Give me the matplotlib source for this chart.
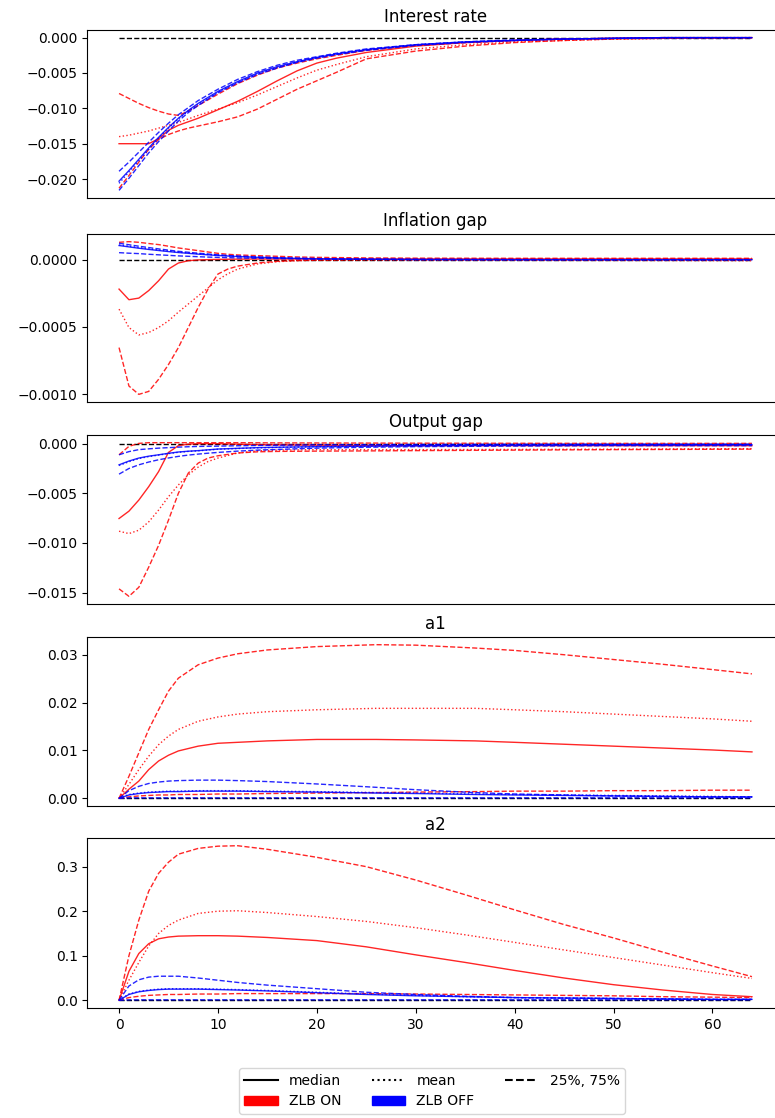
import numpy as np
import matplotlib
matplotlib.use("Agg")
import matplotlib.pyplot as plt
from matplotlib.lines import Line2D
from matplotlib.patches import Patch
from matplotlib.ticker import MultipleLocator

# --- impulse responses: ZLB ON (red) and ZLB OFF (blue); median / mean / 25% / 75%

# Interest rate
x_rate = [0, 1, 2, 3, 4, 5, 6, 7, 8, 10, 12, 14, 16, 18, 20, 22, 25, 30, 35, 40, 45, 50, 55, 64]
rate_on_med = [-0.0150, -0.0150, -0.0150, -0.0150, -0.0143, -0.0131, -0.0124, -0.0119, -0.0114, -0.0102,
               -0.0090, -0.0076, -0.0061, -0.0047, -0.0036, -0.0029, -0.0021, -0.0012, -0.0007, -0.0004,
               -0.0002, -0.0001, 0.0, 0.0]
rate_on_mean = [-0.0140, -0.0138, -0.0135, -0.0132, -0.0128, -0.0124, -0.0120, -0.0115, -0.0110, -0.0101,
                -0.0092, -0.0081, -0.0069, -0.0057, -0.0046, -0.0038, -0.0027, -0.0016, -0.0010, -0.0006,
                -0.0004, -0.0002, -0.0001, 0.0]
rate_on_q25 = [-0.0213, -0.0195, -0.0176, -0.0158, -0.0144, -0.0137, -0.0132, -0.0128, -0.0125, -0.0119,
               -0.0112, -0.0101, -0.0087, -0.0073, -0.0061, -0.0049, -0.0030, -0.0019, -0.0012, -0.0007,
               -0.0004, -0.0002, -0.0001, 0.0]
rate_on_q75 = [-0.0079, -0.0086, -0.0093, -0.0099, -0.0104, -0.0108, -0.0110, -0.0104, -0.0096, -0.0080,
               -0.0065, -0.0053, -0.0043, -0.0036, -0.0030, -0.0025, -0.0018, -0.0011, -0.0007, -0.0004,
               -0.0002, -0.0001, 0.0, 0.0]
rate_off_med = [-0.0203, -0.0188, -0.0172, -0.0156, -0.0141, -0.0127, -0.0114, -0.0103, -0.0093, -0.0076,
                -0.0062, -0.0050, -0.0041, -0.0034, -0.0028, -0.0023, -0.0017, -0.0010, -0.0006, -0.0004,
                -0.0002, -0.0001, 0.0, 0.0]
rate_off_mean = [-0.0206, -0.0190, -0.0174, -0.0158, -0.0142, -0.0128, -0.0115, -0.0104, -0.0094, -0.0077,
                 -0.0063, -0.0051, -0.0042, -0.0034, -0.0028, -0.0023, -0.0017, -0.0010, -0.0006, -0.0004,
                 -0.0002, -0.0001, 0.0, 0.0]
rate_off_q25 = [-0.0216, -0.0199, -0.0181, -0.0163, -0.0147, -0.0132, -0.0118, -0.0106, -0.0096, -0.0078,
                -0.0064, -0.0052, -0.0043, -0.0035, -0.0029, -0.0024, -0.0018, -0.0011, -0.0007, -0.0004,
                -0.0002, -0.0001, 0.0, 0.0]
rate_off_q75 = [-0.0189, -0.0176, -0.0162, -0.0148, -0.0134, -0.0121, -0.0109, -0.0099, -0.0089, -0.0073,
                -0.0059, -0.0048, -0.0039, -0.0032, -0.0027, -0.0022, -0.0016, -0.0010, -0.0006, -0.0003,
                -0.0002, -0.0001, 0.0, 0.0]

# Inflation gap
x_infl = [0, 1, 2, 3, 4, 5, 6, 7, 8, 9, 10, 11, 12, 14, 16, 18, 20, 25, 30, 40, 50, 64]
infl_on_med = [-0.000219, -0.000298, -0.000286, -0.000230, -0.000157, -0.000070, -0.000025, -0.000008,
               -0.000002, 0.0, 0.000002, 0.000003, 0.000004, 0.000005, 0.000005, 0.000005, 0.000005,
               0.000005, 0.000005, 0.000005, 0.000005, 0.000005]
infl_on_mean = [-0.000368, -0.000505, -0.000560, -0.000542, -0.000505, -0.000455, -0.000390, -0.000330,
                -0.000270, -0.000210, -0.000150, -0.000105, -0.000070, -0.000032, -0.000015, -0.000008,
                -0.000005, -0.000004, -0.000004, -0.000005, -0.000006, -0.000008]
infl_on_q25 = [-0.000654, -0.000940, -0.001002, -0.000980, -0.000890, -0.000780, -0.000654, -0.000505,
               -0.000356, -0.000219, -0.000107, -0.000070, -0.000048, -0.000025, -0.000012, -0.000006,
               -0.000003, 0.0, 0.0, 0.0, 0.0, 0.0]
infl_on_q75 = [0.000129, 0.000134, 0.000129, 0.000120, 0.000112, 0.000100, 0.000087, 0.000077, 0.000067,
               0.000057, 0.000047, 0.000040, 0.000035, 0.000030, 0.000025, 0.000020, 0.000017, 0.000013,
               0.000011, 0.000010, 0.000010, 0.000010]
infl_off_med = [0.000105, 0.000095, 0.000085, 0.000076, 0.000068, 0.000060, 0.000053, 0.000047, 0.000041,
                0.000036, 0.000031, 0.000027, 0.000023, 0.000017, 0.000013, 0.000009, 0.000006, 0.000003,
                0.000001, 0.0, 0.0, 0.0]
infl_off_mean = [0.000110, 0.000100, 0.000090, 0.000080, 0.000072, 0.000064, 0.000056, 0.000050, 0.000044,
                 0.000038, 0.000033, 0.000029, 0.000025, 0.000018, 0.000014, 0.000010, 0.000007, 0.000003,
                 0.000001, 0.0, 0.0, 0.0]
infl_off_q25 = [0.000052, 0.000048, 0.000045, 0.000040, 0.000036, 0.000032, 0.000028, 0.000025, 0.000022,
                0.000019, 0.000017, 0.000015, 0.000013, 0.000010, 0.000008, 0.000006, 0.000004, 0.000002,
                0.000001, 0.0, 0.0, 0.0]
infl_off_q75 = [0.000122, 0.000111, 0.000100, 0.000090, 0.000080, 0.000071, 0.000062, 0.000055, 0.000048,
                0.000042, 0.000036, 0.000031, 0.000027, 0.000020, 0.000015, 0.000011, 0.000008, 0.000004,
                0.000002, 0.000001, 0.0, 0.0]

# Output gap
x_out = [0, 1, 2, 3, 4, 5, 6, 7, 8, 9, 10, 12, 14, 16, 20, 25, 30, 40, 50, 64]
out_on_med = [-0.00754, -0.00680, -0.00568, -0.00433, -0.00281, -0.00088, -0.00020, -0.00005, 0.0, 0.0,
              0.0, -0.00005, -0.00010, -0.00012, -0.00015, -0.00018, -0.00020, -0.00020, -0.00020, -0.00020]
out_on_mean = [-0.00882, -0.00906, -0.00872, -0.00788, -0.00669, -0.00534, -0.00416, -0.00314, -0.00236,
               -0.00180, -0.00145, -0.00094, -0.00072, -0.00065, -0.00060, -0.00060, -0.00060, -0.00058,
               -0.00055, -0.00050]
out_on_q25 = [-0.01463, -0.01538, -0.01447, -0.01244, -0.01024, -0.00770, -0.00500, -0.00297, -0.00196,
              -0.00145, -0.00122, -0.00094, -0.00082, -0.00078, -0.00075, -0.00073, -0.00070, -0.00065,
              -0.00060, -0.00055]
out_on_q75 = [-0.00112, -0.00027, 0.00003, 0.00010, 0.00010, 0.00010, 0.00010, 0.00010, 0.00010, 0.00010,
              0.00010, 0.00010, 0.00009, 0.00008, 0.00007, 0.00006, 0.00005, 0.00004, 0.00003, 0.00003]
out_off_med = [-0.00213, -0.00175, -0.00145, -0.00126, -0.00112, -0.00097, -0.00084, -0.00076, -0.00070,
               -0.00062, -0.00054, -0.00047, -0.00040, -0.00036, -0.00030, -0.00025, -0.00020, -0.00015,
               -0.00012, -0.00010]
out_off_mean = [-0.00220, -0.00182, -0.00150, -0.00130, -0.00115, -0.00100, -0.00087, -0.00078, -0.00072,
                -0.00064, -0.00056, -0.00049, -0.00042, -0.00038, -0.00031, -0.00026, -0.00021, -0.00016,
                -0.00013, -0.00010]
out_off_q25 = [-0.00307, -0.00250, -0.00213, -0.00185, -0.00162, -0.00144, -0.00128, -0.00115, -0.00105,
               -0.00096, -0.00088, -0.00075, -0.00065, -0.00058, -0.00045, -0.00036, -0.00030, -0.00024,
               -0.00020, -0.00020]
out_off_q75 = [-0.00112, -0.00080, -0.00060, -0.00052, -0.00045, -0.00040, -0.00035, -0.00031, -0.00028,
               -0.00026, -0.00025, -0.00021, -0.00018, -0.00016, -0.00012, -0.00010, -0.00008, -0.00006,
               -0.00005, -0.00005]

# a1
x_a1 = [0, 1, 2, 3, 4, 5, 6, 8, 10, 12, 15, 20, 26, 30, 36, 40, 45, 50, 55, 60, 64]
a1_on_med = [0.0, 0.0019, 0.0036, 0.0060, 0.0078, 0.0090, 0.0099, 0.0109, 0.0115, 0.0117, 0.0120, 0.0123,
             0.0123, 0.0122, 0.0120, 0.0117, 0.0113, 0.0109, 0.0105, 0.0101, 0.0097]
a1_on_mean = [0.0, 0.0029, 0.0060, 0.0088, 0.0112, 0.0130, 0.0144, 0.0161, 0.0170, 0.0176, 0.0181, 0.0185,
              0.0188, 0.0188, 0.0188, 0.0185, 0.0181, 0.0176, 0.0171, 0.0166, 0.0161]
a1_on_q25 = [0.0, 0.0003, 0.0005, 0.0006, 0.0007, 0.0007, 0.0008, 0.0008, 0.0009, 0.0009, 0.0010, 0.0011,
             0.0012, 0.0013, 0.0014, 0.0015, 0.0015, 0.0016, 0.0016, 0.0017, 0.0017]
a1_on_q75 = [0.0, 0.0046, 0.0095, 0.0144, 0.0185, 0.0224, 0.0251, 0.0279, 0.0293, 0.0302, 0.0310, 0.0317,
             0.0321, 0.0320, 0.0314, 0.0309, 0.0300, 0.0290, 0.0280, 0.0269, 0.0260]
a1_off_med = [0.0, 0.0007, 0.0010, 0.0012, 0.0013, 0.0014, 0.0014, 0.0015, 0.0015, 0.0015, 0.0014, 0.0013,
              0.0011, 0.0010, 0.0008, 0.0007, 0.0006, 0.0005, 0.0004, 0.0003, 0.0003]
a1_off_mean = [0.0, 0.0008, 0.0011, 0.0013, 0.0014, 0.0015, 0.0015, 0.0016, 0.0016, 0.0016, 0.0015, 0.0014,
               0.0012, 0.0011, 0.0009, 0.0008, 0.0007, 0.0006, 0.0005, 0.0004, 0.0003]
a1_off_q25 = [0.0, 0.0001, 0.0001, 0.0001, 0.0001, 0.0001, 0.0001, 0.0001, 0.0001, 0.0001, 0.0001, 0.0001,
              0.0001, 0.0001, 0.0001, 0.0001, 0.0001, 0.0001, 0.0001, 0.0001, 0.0001]
a1_off_q75 = [0.0, 0.0016, 0.0025, 0.0031, 0.0034, 0.0036, 0.0037, 0.0038, 0.0038, 0.0037, 0.0035, 0.0030,
              0.0023, 0.0018, 0.0012, 0.0009, 0.0007, 0.0005, 0.0004, 0.0003, 0.0003]

# a2
x_a2 = [0, 1, 2, 3, 4, 5, 6, 8, 10, 12, 15, 20, 25, 30, 35, 40, 45, 50, 55, 60, 64]
a2_on_med = [0.0, 0.065, 0.105, 0.127, 0.138, 0.142, 0.144, 0.145, 0.145, 0.144, 0.141, 0.134, 0.120,
             0.102, 0.085, 0.067, 0.050, 0.035, 0.023, 0.013, 0.008]
a2_on_mean = [0.0, 0.045, 0.085, 0.122, 0.150, 0.168, 0.180, 0.195, 0.200, 0.201, 0.197, 0.188, 0.177,
              0.163, 0.147, 0.130, 0.113, 0.096, 0.079, 0.062, 0.049]
a2_on_q25 = [0.0, 0.006, 0.009, 0.011, 0.012, 0.013, 0.013, 0.014, 0.014, 0.015, 0.015, 0.015, 0.015,
             0.014, 0.013, 0.012, 0.011, 0.010, 0.008, 0.007, 0.006]
a2_on_q75 = [0.0, 0.100, 0.180, 0.245, 0.285, 0.310, 0.328, 0.341, 0.346, 0.347, 0.339, 0.321, 0.300,
             0.270, 0.237, 0.203, 0.170, 0.140, 0.108, 0.077, 0.053]
a2_off_med = [0.0, 0.013, 0.019, 0.022, 0.024, 0.025, 0.025, 0.025, 0.024, 0.023, 0.021, 0.017, 0.013,
              0.010, 0.008, 0.006, 0.005, 0.004, 0.003, 0.002, 0.002]
a2_off_mean = [0.0, 0.014, 0.020, 0.023, 0.025, 0.026, 0.026, 0.026, 0.025, 0.024, 0.022, 0.018, 0.014,
               0.011, 0.008, 0.006, 0.005, 0.004, 0.003, 0.002, 0.002]
a2_off_q25 = [0.0, 0.001, 0.001, 0.001, 0.001, 0.001, 0.001, 0.001, 0.001, 0.001, 0.001, 0.001, 0.001,
              0.001, 0.001, 0.001, 0.001, 0.001, 0.001, 0.001, 0.001]
a2_off_q75 = [0.0, 0.032, 0.046, 0.052, 0.054, 0.054, 0.054, 0.050, 0.045, 0.040, 0.034, 0.026, 0.018,
              0.013, 0.009, 0.006, 0.005, 0.004, 0.003, 0.002, 0.002]

titles = ["Interest rate", "Inflation gap", "Output gap", "a1", "a2"]
ytick_steps = [0.005, 0.0005, 0.005, 0.01, 0.1]
panels = [
    (x_rate, rate_on_med, rate_on_mean, rate_on_q25, rate_on_q75,
     rate_off_med, rate_off_mean, rate_off_q25, rate_off_q75),
    (x_infl, infl_on_med, infl_on_mean, infl_on_q25, infl_on_q75,
     infl_off_med, infl_off_mean, infl_off_q25, infl_off_q75),
    (x_out, out_on_med, out_on_mean, out_on_q25, out_on_q75,
     out_off_med, out_off_mean, out_off_q25, out_off_q75),
    (x_a1, a1_on_med, a1_on_mean, a1_on_q25, a1_on_q75,
     a1_off_med, a1_off_mean, a1_off_q25, a1_off_q75),
    (x_a2, a2_on_med, a2_on_mean, a2_on_q25, a2_on_q75,
     a2_off_med, a2_off_mean, a2_off_q25, a2_off_q75),
]
horizon = 64

W, H = 775, 1118
fig = plt.figure(figsize=(W / 100, H / 100), dpi=100)

# panel boxes in pixels (top, bottom); the x axis runs a little past the right edge
ax_left, ax_right = 87.4, 783.6
boxes = [(30, 198), (234, 402), (435, 604), (637, 806), (838, 1008)]

LW, ALPHA = 1.0, 0.85


def draw_panel(ax, x, on, off):
    ax.plot([0, horizon], [0, 0], ls="--", color="k", lw=LW)
    for ys, col in ((on, "red"), (off, "blue")):
        med, mean, q25, q75 = ys
        ax.plot(x, med, "-", color=col, lw=LW, alpha=ALPHA)
        ax.plot(x, mean, ":", color=col, lw=LW, alpha=ALPHA)
        ax.plot(x, q25, "--", color=col, lw=LW, alpha=ALPHA)
        ax.plot(x, q75, "--", color=col, lw=LW, alpha=ALPHA)


for i, (title, data) in enumerate(zip(titles, panels)):
    top, bot = boxes[i]
    ax = fig.add_axes([ax_left / W, 1 - bot / H, (ax_right - ax_left) / W, (bot - top) / H])
    x = data[0]
    draw_panel(ax, x, data[1:5], data[5:9])
    ax.set_xlim(-3.2, 67.2)
    ax.yaxis.set_major_locator(MultipleLocator(ytick_steps[i]))
    ax.set_title(title, fontsize=12)
    if i < len(titles) - 1:
        ax.set_xticks([])
    else:
        ax.set_xticks([0, 10, 20, 30, 40, 50, 60])

handles = [
    Line2D([], [], color="k", ls="-", lw=1.5, label="median"),
    Patch(color="red", label="ZLB ON"),
    Line2D([], [], color="k", ls=":", lw=1.5, label="mean"),
    Patch(color="blue", label="ZLB OFF"),
    Line2D([], [], color="k", ls="--", lw=1.5, label="25%, 75%"),
]
fig.legend(handles=handles, loc="center", ncol=3, handlelength=2.4, columnspacing=2.2,
           bbox_to_anchor=(432 / W, 1 - 1091 / H), fontsize=10)

fig.savefig("out.png", dpi=100)
